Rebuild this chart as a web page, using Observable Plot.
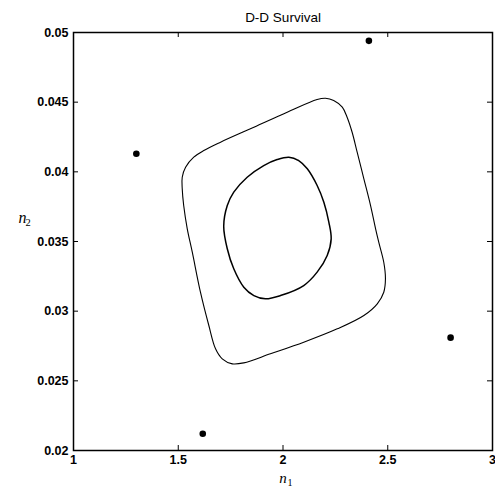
<!DOCTYPE html>
<html><head><meta charset="utf-8">
<script src="https://cdn.jsdelivr.net/npm/d3@7"></script>
<script src="https://cdn.jsdelivr.net/npm/@observablehq/plot@0.6"></script>
<style>body{margin:0;background:#fff} svg{display:block}</style>
</head><body><div id="chart"></div>
<script>
const title = "D-D Survival";
const xTicks = [1, 1.5, 2, 2.5, 3];
const xTickLabels = ["1", "1.5", "2", "2.5", "3"];
const yTicks = [0.02, 0.025, 0.03, 0.035, 0.04, 0.045, 0.05];
const yTickLabels = ["0.02", "0.025", "0.03", "0.035", "0.04", "0.045", "0.05"];
const xLabel = ["n", "1"];
const yLabel = ["n", "2"];

// outer contour
const outerN1 = [2.203, 2.242, 2.283, 2.306, 2.330, 2.354, 2.386, 2.418, 2.442, 2.457, 2.481, 2.489, 2.481, 2.450, 2.386, 2.259, 2.099, 1.940, 1.813, 1.758, 1.710, 1.678, 1.646, 1.606, 1.567, 1.543, 1.526, 1.519, 1.519, 1.535, 1.574, 1.622, 1.702, 1.861, 2.020, 2.163];
const outerN2 = [0.04528, 0.04512, 0.04464, 0.04392, 0.04284, 0.04141, 0.0395, 0.03758, 0.03591, 0.03495, 0.03351, 0.03232, 0.03136, 0.03053, 0.02969, 0.02873, 0.02777, 0.02694, 0.02629, 0.02622, 0.02658, 0.0273, 0.02897, 0.03136, 0.03423, 0.03591, 0.03758, 0.03878, 0.03961, 0.04033, 0.04105, 0.04153, 0.04213, 0.0432, 0.04428, 0.04519];
// inner contour
const innerN1 = [2.028, 2.075, 2.116, 2.163, 2.195, 2.219, 2.230, 2.211, 2.163, 2.099, 1.988, 1.916, 1.861, 1.813, 1.765, 1.734, 1.717, 1.734, 1.765, 1.829, 1.908, 1.972];
const innerN2 = [0.04105, 0.04081, 0.04022, 0.03902, 0.03782, 0.03638, 0.03519, 0.034, 0.0328, 0.03184, 0.03112, 0.03089, 0.03112, 0.03172, 0.03304, 0.03448, 0.0361, 0.03758, 0.03854, 0.03961, 0.04045, 0.04088];
// points
const pointN1 = [2.41, 1.30, 1.617, 2.80];
const pointN2 = [0.0494, 0.0413, 0.0212, 0.0281];

const outer = outerN1.map((x, i) => ({x, y: outerN2[i]}));
const inner = innerN1.map((x, i) => ({x, y: innerN2[i]}));
const points = pointN1.map((x, i) => ({x, y: pointN2[i]}));

const W = 495, H = 490, mT = 32, mB = 40, mL = 73, mR = 3;
const pw = W - mL - mR, ph = H - mT - mB;
const tick = 5;
const serif = "'Liberation Serif', 'Times New Roman', serif";

const chart = Plot.plot({
  width: W, height: H,
  marginTop: mT, marginBottom: mB, marginLeft: mL, marginRight: mR,
  style: {fontFamily: "'Liberation Sans', Arial, Helvetica, sans-serif", fontSize: "12.5px", color: "#000", background: "#fff"},
  x: {domain: [1, 3]},
  y: {domain: [0.02, 0.05]},
  marks: [
    Plot.axisX(xTicks, {tickSize: 0, tickPadding: 5, tickFormat: (d, i) => xTickLabels[i], label: null, fill: "#000", fontWeight: "bold"}),
    Plot.axisY(yTicks, {tickSize: 0, tickPadding: 5, tickFormat: (d, i) => yTickLabels[i], label: null, fill: "#000", fontWeight: "bold"}),
    Plot.tickX(xTicks, {x: d => d, insetTop: ph - tick, stroke: "#000", strokeWidth: 1}),
    Plot.tickX(xTicks, {x: d => d, insetBottom: ph - tick, stroke: "#000", strokeWidth: 1}),
    Plot.tickY(yTicks, {y: d => d, insetRight: pw - tick, stroke: "#000", strokeWidth: 1}),
    Plot.tickY(yTicks, {y: d => d, insetLeft: pw - tick, stroke: "#000", strokeWidth: 1}),
    Plot.frame({stroke: "#000", strokeWidth: 1.5}),
    Plot.line(outer, {x: "x", y: "y", curve: "catmull-rom-closed", stroke: "#000", strokeWidth: 1.1}),
    Plot.line(inner, {x: "x", y: "y", curve: "catmull-rom-closed", stroke: "#000", strokeWidth: 1.5}),
    Plot.dot(points, {x: "x", y: "y", r: 3.3, fill: "#000", stroke: null}),
    Plot.text([title], {frameAnchor: "top", dy: -20, fontSize: 13.5, fill: "#000"}),
    Plot.text([xLabel[0]], {frameAnchor: "bottom", dy: 32, fontSize: 15, fontStyle: "italic", fontFamily: serif, fill: "#000"}),
    Plot.text([xLabel[1]], {frameAnchor: "bottom", dx: 7, dy: 35, fontSize: 10, fontFamily: serif, fill: "#000"}),
    Plot.text([yLabel[0]], {frameAnchor: "left", dx: -55, dy: -24, fontSize: 16, fontStyle: "italic", fontFamily: serif, fill: "#000"}),
    Plot.text([yLabel[1]], {frameAnchor: "left", dx: -48, dy: -19, fontSize: 10.5, fontFamily: serif, fill: "#000"})
  ]
});
document.getElementById("chart").appendChild(chart);
</script>
</body></html>
